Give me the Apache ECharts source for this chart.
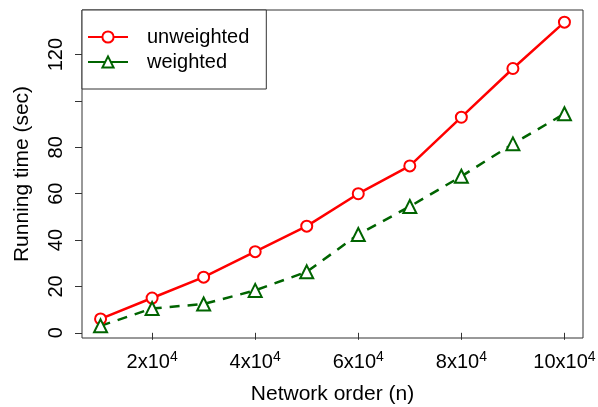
<!DOCTYPE html>
<html>
<head>
<meta charset="utf-8">
<script src="https://cdn.jsdelivr.net/npm/echarts@6/dist/echarts.min.js"></script>
<style>
html,body{margin:0;padding:0;background:#fff;}
#chart{width:598px;height:407px;}
</style>
</head>
<body>
<div id="chart"></div>
<script>
var networkOrder = [10000, 20000, 30000, 40000, 50000, 60000, 70000, 80000, 90000, 100000];
var unweighted = [6, 15, 24, 35, 46, 60, 72, 93, 114, 134];
var weighted = [3, 10.5, 12.4, 18.3, 26.3, 42.4, 54.5, 67.5, 81.5, 94.5];
var xTicks = [20000, 40000, 60000, 80000, 100000];
var yTicks = [0, 20, 40, 60, 80, 100, 120];
var yTickLabels = [0, 20, 40, 60, 80, 120];

function pairs(xs, ys) { return xs.map(function (x, i) { return [x, ys[i]]; }); }

var FONT = '"Liberation Sans", Arial, Helvetica, sans-serif';
var chart = echarts.init(document.getElementById('chart'), null, {renderer: 'canvas'});
chart.setOption({
  animation: false,
  backgroundColor: '#fff',
  textStyle: {fontFamily: FONT, color: '#000'},
  grid: {left: 82, right: 15, top: 10, bottom: 69, show: true, borderColor: '#333', borderWidth: 1,
         backgroundColor: 'transparent', containLabel: false, outerBoundsMode: 'none'},
  legend: {
    orient: 'vertical', left: 82, top: 10,
    padding: [17, 17, 17, 5], itemGap: 5,
    itemWidth: 40, itemHeight: 14,
    borderColor: '#333', borderWidth: 1, borderRadius: 0,
    backgroundColor: '#fff',
    textStyle: {fontSize: 20, fontFamily: FONT, color: '#000', padding: [0, 0, 0, 14]},
    data: [
      {name: 'unweighted'},
      {name: 'weighted', lineStyle: {type: 'solid'}}
    ]
  },
  xAxis: {
    type: 'value', min: 6400, max: 103600,
    name: 'Network order (n)', nameLocation: 'middle', nameGap: 46,
    nameTextStyle: {fontSize: 21, fontFamily: FONT, color: '#000'},
    axisLine: {show: false},
    splitLine: {show: false},
    axisTick: {show: true, length: 7, lineStyle: {color: '#333'}, customValues: xTicks},
    axisLabel: {
      customValues: xTicks, margin: 12, fontSize: 20, color: '#000',
      formatter: function (v) { return '{b|' + (v / 10000) + 'x10}{s|4}'; },
      rich: {
        b: {fontSize: 20, lineHeight: 24, fontFamily: FONT, color: '#000'},
        s: {fontSize: 14, lineHeight: 14, verticalAlign: 'top', fontFamily: FONT, color: '#000'}
      }
    }
  },
  yAxis: {
    type: 'value', min: -2.24, max: 139.24,
    name: 'Running time (sec)', nameLocation: 'middle', nameGap: 49,
    nameTextStyle: {fontSize: 21, fontFamily: FONT, color: '#000'},
    axisLine: {show: false},
    splitLine: {show: false},
    axisTick: {show: true, length: 7, lineStyle: {color: '#333'}, customValues: yTicks},
    axisLabel: {customValues: yTickLabels, rotate: 90, margin: 16, fontSize: 20, color: '#000'}
  },
  series: [
    {
      name: 'unweighted', type: 'line', data: pairs(networkOrder, unweighted),
      symbol: 'emptyCircle', symbolSize: 11,
      lineStyle: {color: '#ff0000', width: 2.5},
      itemStyle: {color: '#ff0000', borderColor: '#ff0000', borderWidth: 2.5}
    },
    {
      name: 'weighted', type: 'line', data: pairs(networkOrder, weighted),
      symbol: 'emptyTriangle', symbolSize: 13,
      lineStyle: {color: '#006400', width: 2.5, type: [10, 8]},
      itemStyle: {color: '#006400', borderColor: '#006400', borderWidth: 2.5}
    }
  ]
});
</script>
</body>
</html>
